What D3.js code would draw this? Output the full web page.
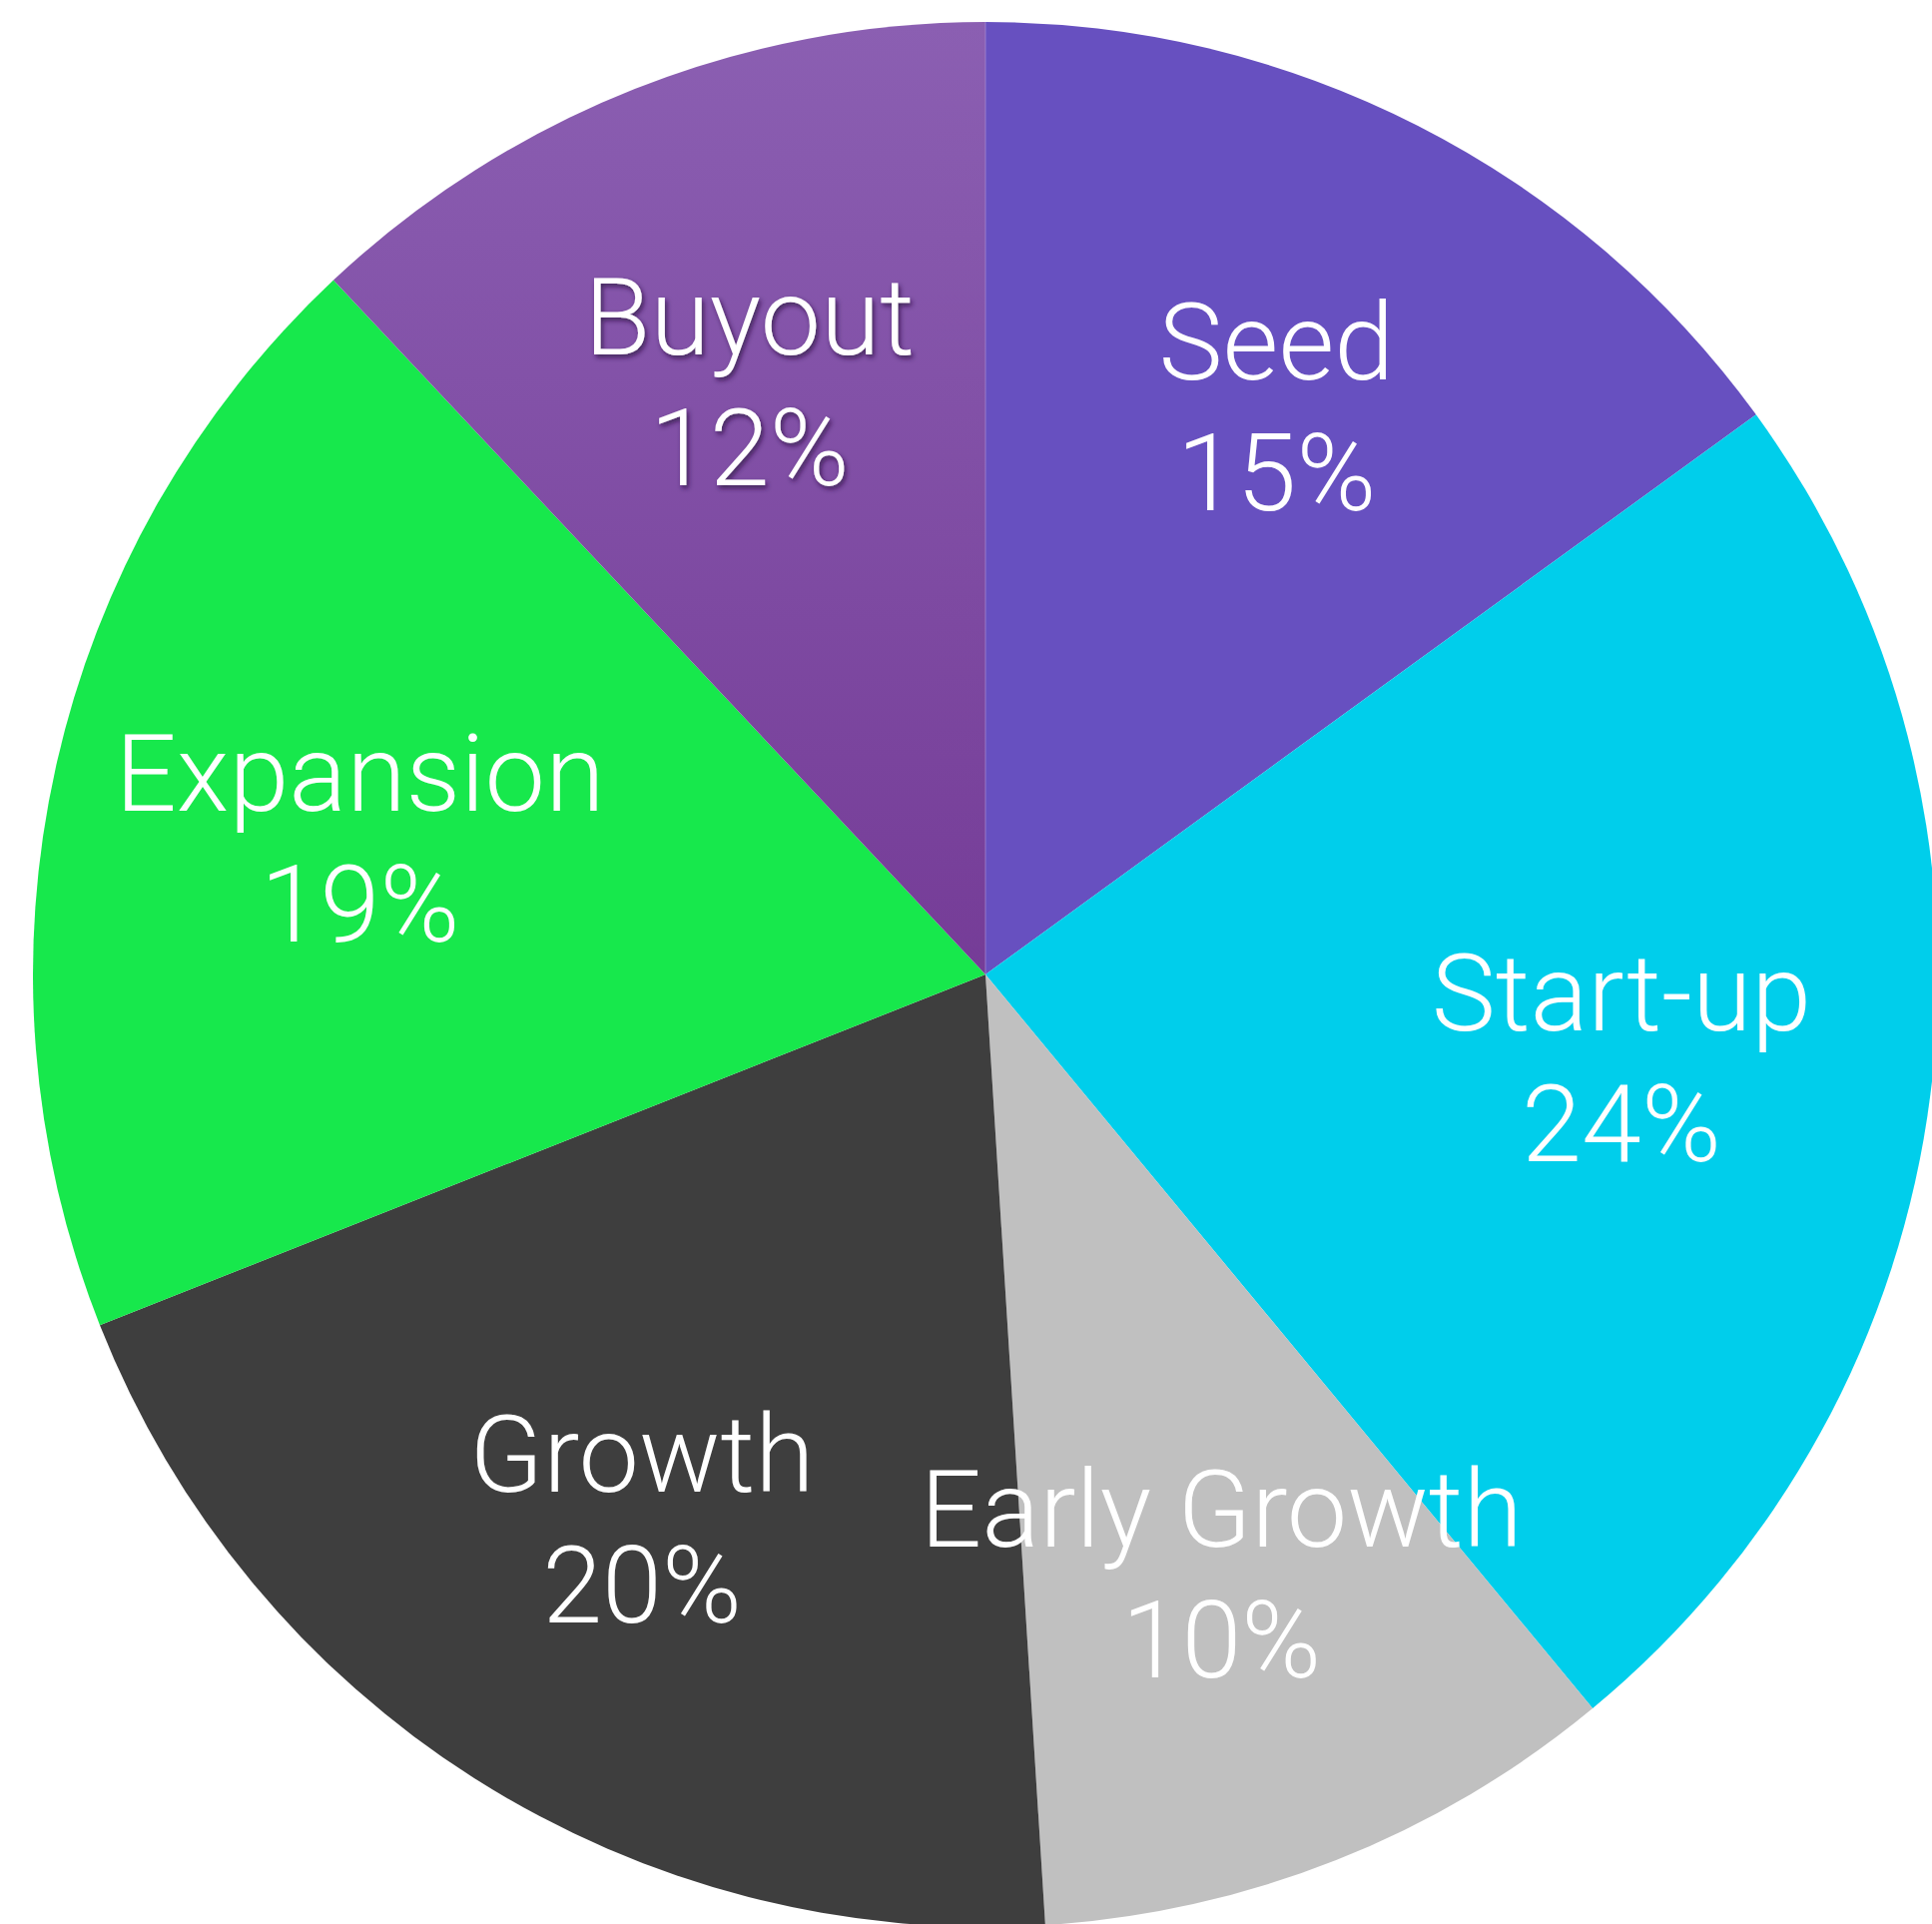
<!DOCTYPE html>
<html>
<head>
<meta charset="utf-8">
<script src="https://cdn.jsdelivr.net/npm/d3@7"></script>
<style>
  html, body { margin: 0; padding: 0; background: #ffffff; }
  svg { display: block; }
  text { font-family: Roboto, "Helvetica Neue", Arial, sans-serif; font-weight: 300; fill: #ffffff; }
</style>
</head>
<body>
<svg id="chart" width="1935" height="1927"></svg>
<script>
// Investment stages, clockwise from 12 o'clock
const categories = ["Seed", "Start-up", "Early Growth", "Growth", "Expansion", "Buyout"];
const shares = [15, 24, 10, 20, 19, 12];
const percentLabels = ["15%", "24%", "10%", "20%", "19%", "12%"];
const colors = ["#6750c0", "#00ceeb", "#c0c0c0", "#3e3e3e", "#17e84c", "url(#buyoutGrad)"];

const W = 1935, H = 1927;
const cx = 987, cy = 976, R = 954;
const labelR = 642;
const fontSize = 108, lineGap = 131;

const svg = d3.select("#chart");

const defs = svg.append("defs");
// vertical shade on the Buyout slice, in the pie group's local coordinates
const grad = defs.append("linearGradient")
  .attr("id", "buyoutGrad")
  .attr("gradientUnits", "userSpaceOnUse")
  .attr("x1", 0).attr("y1", -R).attr("x2", 0).attr("y2", 0);
grad.append("stop").attr("offset", "0%").attr("stop-color", "#8b5fb2");
grad.append("stop").attr("offset", "100%").attr("stop-color", "#753c97");

const shadow = defs.append("filter").attr("id", "textShadow")
  .attr("x", "-10%").attr("y", "-10%").attr("width", "120%").attr("height", "130%");
shadow.append("feDropShadow")
  .attr("dx", 2).attr("dy", 3).attr("stdDeviation", 2.5)
  .attr("flood-color", "#2a0f3d").attr("flood-opacity", 0.75);

const data = categories.map((c, i) => ({ name: c, value: shares[i], label: percentLabels[i], color: colors[i] }));

const pie = d3.pie().value(d => d.value).sort(null).startAngle(0).endAngle(2 * Math.PI);
const arcs = pie(data);

const arc = d3.arc().innerRadius(0).outerRadius(R);
const labelArc = d3.arc().innerRadius(labelR).outerRadius(labelR);

const g = svg.append("g").attr("transform", `translate(${cx},${cy})`);

g.selectAll("path.slice")
  .data(arcs)
  .join("path")
  .attr("class", "slice")
  .attr("d", arc)
  .attr("fill", d => d.data.color);

// faint seam where the first and last slices meet
g.append("line")
  .attr("x1", 0).attr("y1", 0).attr("x2", 0).attr("y2", -R)
  .attr("stroke", "#a88fd6").attr("stroke-width", 1).attr("stroke-opacity", 0.7);

const labels = g.selectAll("g.label")
  .data(arcs)
  .join("g")
  .attr("class", "label")
  .attr("transform", d => {
    const [x, y] = labelArc.centroid(d);
    return `translate(${x},${y})`;
  })
  .attr("filter", d => d.data.name === "Buyout" ? "url(#textShadow)" : null);

labels.append("text")
  .attr("text-anchor", "middle")
  .attr("y", -24)
  .style("font-size", fontSize + "px")
  .text(d => d.data.name);

labels.append("text")
  .attr("text-anchor", "middle")
  .attr("y", -24 + lineGap)
  .style("font-size", fontSize + "px")
  .text(d => d.data.label);
</script>
</body>
</html>
